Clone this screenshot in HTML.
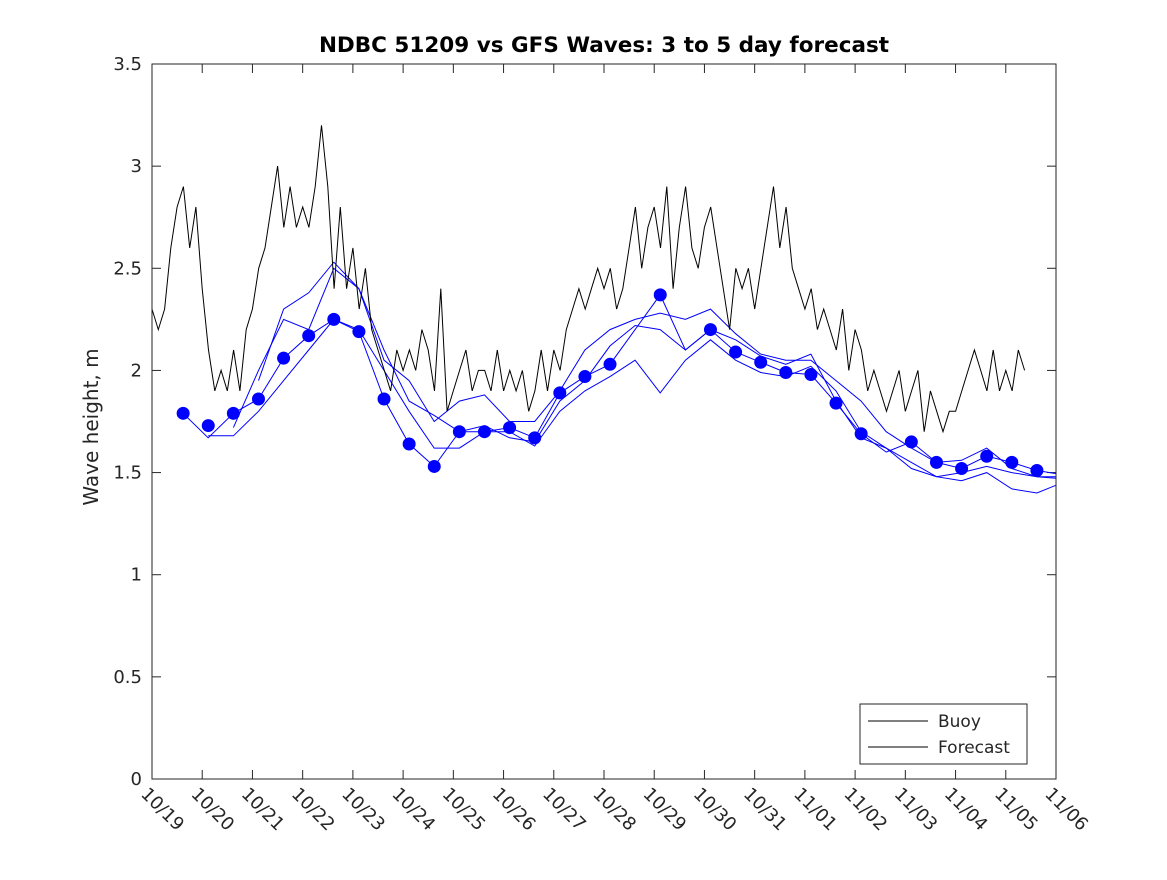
<!DOCTYPE html>
<html><head><meta charset="utf-8"><style>
body{margin:0;background:#fff;}
svg text{font-family:"DejaVu Sans","Liberation Sans",sans-serif;}
</style></head><body>
<svg width="1167" height="875" xmlns="http://www.w3.org/2000/svg" id="svg">
<defs><clipPath id="clip"><rect x="152" y="64" width="904" height="715"/></clipPath></defs>
<rect width="1167" height="875" fill="#fff"/>
<text x="604" y="52" font-size="21.5" font-weight="bold" text-anchor="middle">NDBC 51209 vs GFS Waves: 3 to 5 day forecast</text>
<text transform="translate(98,427) rotate(-90)" font-size="20" text-anchor="middle" fill="#262626">Wave height, m</text>
<g id="plot"></g>
<rect x="152" y="64" width="904" height="715" fill="none" stroke="#262626" stroke-width="1"/>
<g>
<rect x="860" y="704" width="167" height="60" fill="#fff" stroke="#262626"/>
<line x1="868" y1="721" x2="928" y2="721" stroke="#000"/>
<text x="938" y="727" font-size="17" fill="#262626">Buoy</text>
<line x1="868" y1="747" x2="928" y2="747" stroke="#000"/>
<text x="938" y="753" font-size="17" fill="#262626">Forecast</text>
</g>
</svg>
<script>
const yTicks=[0,0.5,1,1.5,2,2.5,3,3.5];
const xTickLabels=["10/19","10/20","10/21","10/22","10/23","10/24","10/25","10/26","10/27","10/28","10/29","10/30","10/31","11/01","11/02","11/03","11/04","11/05","11/06"];
const buoy=[2.3,2.2,2.3,2.6,2.8,2.9,2.6,2.8,
2.4,2.1,1.9,2.0,1.9,2.1,1.9,2.2,
2.3,2.5,2.6,2.8,3.0,2.7,2.9,2.7,
2.8,2.7,2.9,3.2,2.9,2.4,2.8,2.4,
2.6,2.3,2.5,2.2,2.1,2.0,1.9,2.1,
2.0,2.1,2.0,2.2,2.1,1.9,2.4,1.8,
1.9,2.0,2.1,1.9,2.0,2.0,1.9,2.1,
1.9,2.0,1.9,2.0,1.8,1.9,2.1,1.9,
2.1,2.0,2.2,2.3,2.4,2.3,2.4,2.5,
2.4,2.5,2.3,2.4,2.6,2.8,2.5,2.7,
2.8,2.6,2.9,2.4,2.7,2.9,2.6,2.5,
2.7,2.8,2.6,2.4,2.2,2.5,2.4,2.5,
2.3,2.5,2.7,2.9,2.6,2.8,2.5,2.4,
2.3,2.4,2.2,2.3,2.2,2.1,2.3,2.0,
2.2,2.1,1.9,2.0,1.9,1.8,1.9,2.0,
1.8,1.9,2.0,1.7,1.9,1.8,1.7,1.8,
1.8,1.9,2.0,2.1,2.0,1.9,2.1,1.9,
2.0,1.9,2.1,2.0];
const dots=[1.79,1.73,1.79,1.86,2.06,2.17,2.25,2.19,1.86,1.64,1.53,1.70,1.70,1.72,1.67,1.89,1.97,2.03,null,2.37,null,2.20,2.09,2.04,1.99,1.98,1.84,1.69,null,1.65,1.55,1.52,1.58,1.55,1.51];
const fcA=[1.79,1.67,1.79,1.86,2.06,2.17,2.25,2.19,1.86,1.64,1.53,1.70,1.70,1.72,1.67,1.89,1.97,2.03,2.2,2.37,2.1,2.20,2.09,2.04,1.99,1.98,1.84,1.69,1.6,1.65,1.55,1.52,1.58,1.55,1.51,1.49];
const fcB=[null,1.68,1.68,1.80,1.95,2.10,2.25,2.20,2.00,1.80,1.62,1.62,1.70,1.70,1.63,1.80,1.90,1.97,2.05,1.89,2.05,2.15,2.05,1.99,1.97,2.02,1.90,1.70,1.62,1.55,1.48,1.46,1.50,1.42,1.40,1.45];
const fcC=[null,null,1.72,2.00,2.25,2.20,2.50,2.40,2.05,1.95,1.75,1.85,1.88,1.75,1.75,1.90,2.10,2.20,2.25,2.28,2.25,2.30,2.18,2.08,2.05,2.05,1.95,1.85,1.70,1.62,1.55,1.56,1.62,1.52,1.48,1.48];
const fcD=[null,null,null,1.95,2.30,2.38,2.53,2.40,2.10,1.85,1.78,1.70,1.73,1.67,1.65,1.85,1.95,2.12,2.22,2.20,2.10,2.20,2.15,2.07,2.03,2.08,1.85,1.67,1.62,1.52,1.48,1.50,1.53,1.50,1.48,1.47];
const X0=152,X1=1056,Y0=779,Y1=64,NDAYS=18,YMAX=3.5;
const xs=d=>X0+(X1-X0)*d/NDAYS;
const ys=v=>Y0-(Y0-Y1)*v/YMAX;
const NS="http://www.w3.org/2000/svg";
const g=document.getElementById('plot');
function mk(t,a,parent){const e=document.createElementNS(NS,t);for(const k in a)e.setAttribute(k,a[k]);(parent||g).appendChild(e);return e;}
yTicks.forEach(v=>{
 mk('line',{x1:X0,y1:ys(v),x2:X0+9,y2:ys(v),stroke:'#262626'});
 mk('line',{x1:X1,y1:ys(v),x2:X1-9,y2:ys(v),stroke:'#262626'});
 const t=mk('text',{x:X0-10,y:ys(v)+6,'font-size':18,'text-anchor':'end',fill:'#262626'});
 
 
 t.textContent=String(v);
});
xTickLabels.forEach((l,i)=>{
 const x=xs(i);
 mk('line',{x1:x,y1:Y0,x2:x,y2:Y0-9,stroke:'#262626'});
 mk('line',{x1:x,y1:Y1,x2:x,y2:Y1+9,stroke:'#262626'});
 const t=mk('text',{transform:`translate(${x-12},${Y0+16}) rotate(45)`,'font-size':18,fill:'#262626'});
 
 
 t.textContent=l;
});
const cg=mk('g',{'clip-path':'url(#clip)'});
function pathFrom(arr,x0,step){let d='',pen=false;arr.forEach((v,i)=>{if(v==null){pen=false;return;}d+=(pen?'L':'M')+xs(x0+i*step).toFixed(1)+','+ys(v).toFixed(1);pen=true;});return d;}
[fcA,fcB,fcC,fcD].forEach((s,j)=>{
 const p=mk('path',{d:pathFrom(s,0.62,0.5),fill:'none',stroke:'#0000ff','stroke-width':1},cg);
 
 
});
const bp=mk('path',{d:pathFrom(buoy,0,0.125),fill:'none',stroke:'#000','stroke-width':1},cg);


dots.forEach((v,i)=>{if(v==null)return;
 const c=mk('circle',{cx:xs(0.62+i*0.5),cy:ys(v),r:6.5,fill:'#0000ff'},cg);
 
 
});
</script>
</body></html>
